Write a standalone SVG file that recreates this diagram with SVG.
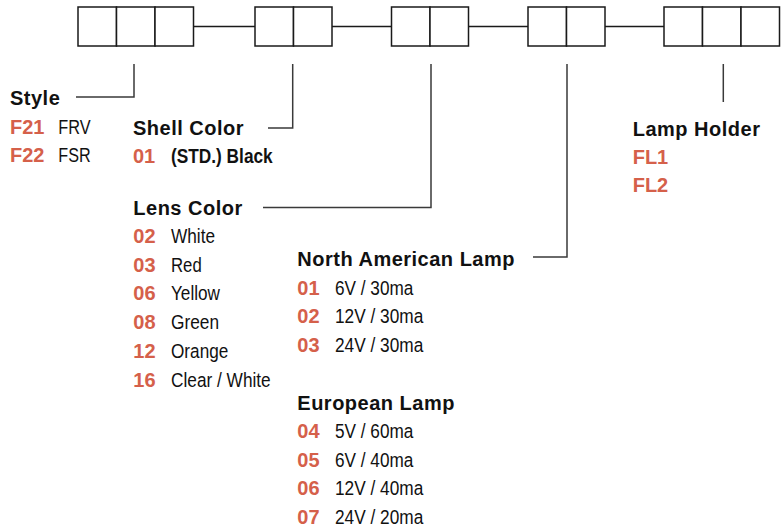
<svg xmlns="http://www.w3.org/2000/svg" width="781" height="531" viewBox="0 0 781 531">
<style>
.box{fill:#fff;stroke:#1a1a1a;stroke-width:1.5}
.conn{stroke:#1a1a1a;stroke-width:1.4;fill:none}
.lead{stroke:#3a3a3a;stroke-width:1.5;fill:none}
.h{font-family:"Liberation Sans",Arial,sans-serif;font-weight:bold;font-size:20px;letter-spacing:0.5px;fill:#111}
.c{font-family:"Liberation Sans",Arial,sans-serif;font-weight:bold;font-size:20px;fill:#d5604a}
.d{font-family:"Liberation Sans",Arial,sans-serif;font-size:20.5px;fill:#111}
.db{font-family:"Liberation Sans",Arial,sans-serif;font-weight:bold;font-size:20px;fill:#111}
</style>
<g id="connectors">
<line class="conn" x1="193.5" y1="26.5" x2="255" y2="26.5"/>
<line class="conn" x1="332" y1="26.5" x2="391.5" y2="26.5"/>
<line class="conn" x1="468.5" y1="26.5" x2="528" y2="26.5"/>
<line class="conn" x1="605" y1="26.5" x2="664" y2="26.5"/>
<polyline class="lead" points="134,64 134,97 76,97"/>
<polyline class="lead" points="292.7,64 292.7,128 268,128"/>
<polyline class="lead" points="431,64 431,207.5 263,207.5"/>
<polyline class="lead" points="567,64 567,257 533,257"/>
<line class="lead" x1="723.3" y1="64" x2="723.3" y2="102"/>
</g>
<g id="boxes-style">
<rect class="box" x="78" y="7" width="38.5" height="39"/>
<rect class="box" x="116.5" y="7" width="38.5" height="39"/>
<rect class="box" x="155" y="7" width="38.5" height="39"/>
</g>
<g id="boxes-shell">
<rect class="box" x="255" y="7" width="38.5" height="39"/>
<rect class="box" x="293.5" y="7" width="38.5" height="39"/>
</g>
<g id="boxes-lens">
<rect class="box" x="391.5" y="7" width="38.5" height="39"/>
<rect class="box" x="430" y="7" width="38.5" height="39"/>
</g>
<g id="boxes-lamp">
<rect class="box" x="528" y="7" width="38.5" height="39"/>
<rect class="box" x="566.5" y="7" width="38.5" height="39"/>
</g>
<g id="boxes-holder">
<rect class="box" x="664" y="7" width="38.5" height="39"/>
<rect class="box" x="702.5" y="7" width="38.5" height="39"/>
<rect class="box" x="741" y="7" width="38.5" height="39"/>
</g>
<g id="style">
<text class="h" x="10" y="105">Style</text>
<text class="c" x="10" y="134">F21</text>
<text class="d" x="58.3" y="134" textLength="32.3" lengthAdjust="spacingAndGlyphs">FRV</text>
<text class="c" x="10" y="162.3">F22</text>
<text class="d" x="58.3" y="162.3" textLength="32.3" lengthAdjust="spacingAndGlyphs">FSR</text>
</g>
<g id="shell-color">
<text class="h" x="133" y="135">Shell Color</text>
<text class="c" x="133" y="163.3">01</text>
<text class="db" x="171" y="163.3" textLength="101.7" lengthAdjust="spacingAndGlyphs">(STD.) Black</text>
</g>
<g id="lens-color">
<text class="h" x="133.3" y="215">Lens Color</text>
<text class="c" x="133.3" y="243.3">02</text>
<text class="d" x="171" y="243.3" textLength="44" lengthAdjust="spacingAndGlyphs">White</text>
<text class="c" x="133.3" y="271.7">03</text>
<text class="d" x="171" y="271.7" textLength="30.7" lengthAdjust="spacingAndGlyphs">Red</text>
<text class="c" x="133.3" y="300.3">06</text>
<text class="d" x="171" y="300.3" textLength="49" lengthAdjust="spacingAndGlyphs">Yellow</text>
<text class="c" x="133.3" y="329.3">08</text>
<text class="d" x="171" y="329.3" textLength="48" lengthAdjust="spacingAndGlyphs">Green</text>
<text class="c" x="133.3" y="358.3">12</text>
<text class="d" x="171" y="358.3" textLength="57.3" lengthAdjust="spacingAndGlyphs">Orange</text>
<text class="c" x="133.3" y="386.7">16</text>
<text class="d" x="171" y="386.7" textLength="99.7" lengthAdjust="spacingAndGlyphs">Clear / White</text>
</g>
<g id="north-american-lamp">
<text class="h" x="297.3" y="266">North American Lamp</text>
<text class="c" x="297.3" y="295">01</text>
<text class="d" x="335" y="295" textLength="78.3" lengthAdjust="spacingAndGlyphs">6V / 30ma</text>
<text class="c" x="297.3" y="323.3">02</text>
<text class="d" x="335" y="323.3" textLength="88.3" lengthAdjust="spacingAndGlyphs">12V / 30ma</text>
<text class="c" x="297.3" y="351.7">03</text>
<text class="d" x="335" y="351.7" textLength="88.3" lengthAdjust="spacingAndGlyphs">24V / 30ma</text>
</g>
<g id="european-lamp">
<text class="h" x="297.3" y="410">European Lamp</text>
<text class="c" x="297.3" y="438.3">04</text>
<text class="d" x="335" y="438.3" textLength="78.3" lengthAdjust="spacingAndGlyphs">5V / 60ma</text>
<text class="c" x="297.3" y="466.7">05</text>
<text class="d" x="335" y="466.7" textLength="78.3" lengthAdjust="spacingAndGlyphs">6V / 40ma</text>
<text class="c" x="297.3" y="495">06</text>
<text class="d" x="335" y="495" textLength="88.3" lengthAdjust="spacingAndGlyphs">12V / 40ma</text>
<text class="c" x="297.3" y="524.3">07</text>
<text class="d" x="335" y="524.3" textLength="88.3" lengthAdjust="spacingAndGlyphs">24V / 20ma</text>
</g>
<g id="lamp-holder">
<text class="h" x="632.7" y="135.7">Lamp Holder</text>
<text class="c" x="632.7" y="164">FL1</text>
<text class="c" x="632.7" y="192.3">FL2</text>
</g>
</svg>
